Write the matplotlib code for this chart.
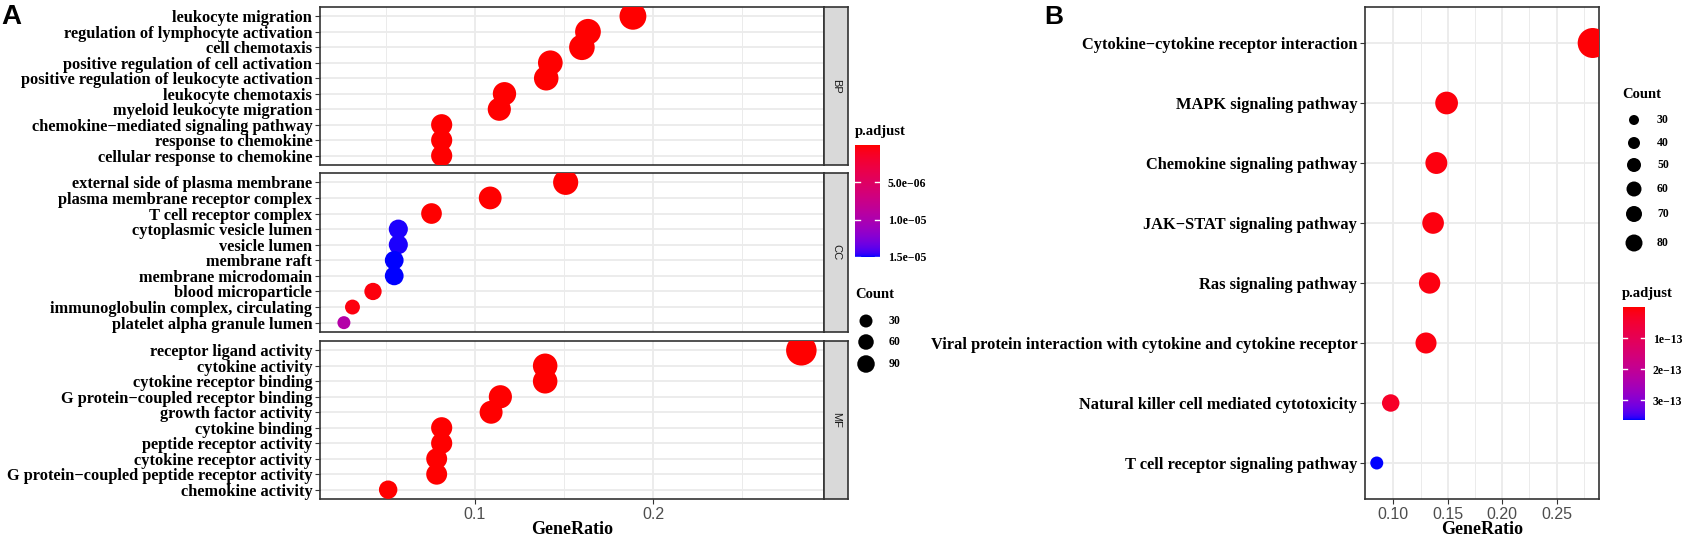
import numpy as np
import matplotlib
matplotlib.use("Agg")
import matplotlib.pyplot as plt
from matplotlib.colors import ListedColormap, Normalize

# ---------------------------------------------------------------
# Panel A : GO enrichment, faceted by ontology
# ---------------------------------------------------------------
bp_terms = [
    "leukocyte migration",
    "regulation of lymphocyte activation",
    "cell chemotaxis",
    "positive regulation of cell activation",
    "positive regulation of leukocyte activation",
    "leukocyte chemotaxis",
    "myeloid leukocyte migration",
    "chemokine\u2212mediated signaling pathway",
    "response to chemokine",
    "cellular response to chemokine",
]
bp_ratio = [0.1886, 0.1634, 0.1600, 0.1423, 0.1400, 0.1166, 0.1137, 0.0814, 0.0814, 0.0814]
bp_count = [61, 53, 52, 46, 45, 38, 37, 27, 27, 27]
bp_padj = [2.1e-20, 3.4e-18, 5.0e-18, 1.2e-16, 2.0e-16, 4.1e-14, 8.8e-14, 1.5e-12, 1.5e-12, 1.9e-12]

cc_terms = [
    "external side of plasma membrane",
    "plasma membrane receptor complex",
    "T cell receptor complex",
    "cytoplasmic vesicle lumen",
    "vesicle lumen",
    "membrane raft",
    "membrane microdomain",
    "blood microparticle",
    "immunoglobulin complex, circulating",
    "platelet alpha granule lumen",
]
cc_ratio = [0.1509, 0.1086, 0.0757, 0.0571, 0.0571, 0.0548, 0.0548, 0.0429, 0.0314, 0.0266]
cc_count = [49, 35, 25, 19, 19, 18, 18, 14, 10, 9]
cc_padj = [1.8e-14, 2.2e-10, 6.5e-9, 1.49e-5, 1.49e-5, 1.50e-5, 1.502e-5, 3.1e-7, 4.0e-7, 9.5e-6]

mf_terms = [
    "receptor ligand activity",
    "cytokine activity",
    "cytokine receptor binding",
    "G protein\u2212coupled receptor binding",
    "growth factor activity",
    "cytokine binding",
    "peptide receptor activity",
    "cytokine receptor activity",
    "G protein\u2212coupled peptide receptor activity",
    "chemokine activity",
]
mf_ratio = [0.2830, 0.1394, 0.1394, 0.1143, 0.1091, 0.0814, 0.0814, 0.0786, 0.0786, 0.0514]
mf_count = [92, 45, 45, 37, 36, 27, 27, 26, 26, 17]
mf_padj = [1.2e-30, 5.1e-20, 8.3e-20, 1.1e-14, 2.6e-13, 4.2e-12, 5.5e-12, 6.1e-12, 7.0e-12, 1.3e-10]

a_count_breaks = [30, 60, 90]
a_padj_breaks = [5e-6, 1e-5, 1.5e-5]
a_padj_labels = ["5.0e\u221206", "1.0e\u221205", "1.5e\u221205"]

# ---------------------------------------------------------------
# Panel B : KEGG enrichment
# ---------------------------------------------------------------
kegg_terms = [
    "Cytokine\u2212cytokine receptor interaction",
    "MAPK signaling pathway",
    "Chemokine signaling pathway",
    "JAK\u2212STAT signaling pathway",
    "Ras signaling pathway",
    "Viral protein interaction with cytokine and cytokine receptor",
    "Natural killer cell mediated cytotoxicity",
    "T cell receptor signaling pathway",
]
kegg_ratio = [0.2830, 0.1489, 0.1395, 0.1365, 0.1333, 0.1300, 0.0976, 0.0848]
kegg_count = [83, 44, 41, 40, 39, 38, 29, 25]
kegg_padj = [4.2e-15, 8.1e-15, 9.0e-15, 9.6e-15, 1.0e-14, 1.1e-14, 3.5e-14, 3.63e-13]

b_count_breaks = [30, 40, 50, 60, 70, 80]
b_padj_breaks = [1e-13, 2e-13, 3e-13]
b_padj_labels = ["1e\u221213", "2e\u221213", "3e\u221213"]

# ---------------------------------------------------------------
W, H, DPI = 1686, 547, 100
SERIF = ["Liberation Serif", "DejaVu Serif"]
SANS = ["Liberation Sans", "DejaVu Sans"]
FRAME = "#333333"
GRID = "#EBEBEB"
LABEL_FS = 11.8

M_RGB2XYZ = np.array([[0.4124, 0.3576, 0.1805],
                      [0.2126, 0.7152, 0.0722],
                      [0.0193, 0.1192, 0.9505]])
WHITE = np.array([0.95047, 1.0, 1.08883])


def srgb_to_lab(rgb):
    c = np.asarray(rgb, dtype=float)
    lin = np.where(c <= 0.04045, c / 12.92, ((c + 0.055) / 1.055) ** 2.4)
    xyz = M_RGB2XYZ @ lin / WHITE
    f = np.where(xyz > 0.008856, np.cbrt(xyz), 7.787 * xyz + 16 / 116)
    return np.array([116 * f[1] - 16, 500 * (f[0] - f[1]), 200 * (f[1] - f[2])])


def lab_to_srgb(lab):
    L, a, b = lab
    fy = (L + 16) / 116
    f = np.array([fy + a / 500, fy, fy - b / 200])
    xyz = np.where(f ** 3 > 0.008856, f ** 3, (f - 16 / 116) / 7.787) * WHITE
    lin = np.clip(np.linalg.solve(M_RGB2XYZ, xyz), 0, 1)
    c = np.where(lin <= 0.0031308, 12.92 * lin, 1.055 * lin ** (1 / 2.4) - 0.055)
    return np.clip(c, 0, 1)


# red -> blue gradient interpolated in Lab, like ggplot's scale_color_continuous
lab_lo = srgb_to_lab([1, 0, 0])
lab_hi = srgb_to_lab([0, 0, 1])
cmap = ListedColormap([lab_to_srgb(lab_lo + (lab_hi - lab_lo) * t) for t in np.linspace(0, 1, 256)])


def dot_sizes(counts, cmin, cmax, dmin_px, dmax_px):
    frac = (np.asarray(counts, dtype=float) - cmin) / (cmax - cmin)
    d_px = dmin_px + (dmax_px - dmin_px) * np.sqrt(np.clip(frac, 0, 1))
    return (d_px * 72.0 / DPI) ** 2


def px_axes(fig, x0, y0, x1, y1):
    return fig.add_axes([x0 / W, 1 - y1 / H, (x1 - x0) / W, (y1 - y0) / H])


def style_panel(ax, terms, xlim, major, minor, show_x):
    n = len(terms)
    ax.set_xlim(*xlim)
    ax.set_ylim(-0.6, n - 0.4)
    ax.set_yticks(range(n))
    ax.set_yticklabels(terms[::-1], fontfamily=SERIF, fontweight="bold", fontsize=LABEL_FS)
    ax.set_xticks(major)
    ax.set_xticks(minor, minor=True)
    ax.grid(which="major", color=GRID, lw=1.3, zorder=0)
    ax.grid(which="minor", axis="x", color=GRID, lw=0.7, zorder=0)
    ax.set_axisbelow(True)
    for s in ax.spines.values():
        s.set_color(FRAME)
        s.set_linewidth(1.2)
    ax.tick_params(axis="y", length=3.5, width=0.8, color=FRAME, pad=2)
    ax.tick_params(axis="x", which="minor", length=0)
    if show_x:
        ax.tick_params(axis="x", length=3.5, width=0.8, color=FRAME, pad=2.5,
                       labelsize=11.5, labelcolor="#4D4D4D")
    else:
        ax.tick_params(axis="x", length=0, labelbottom=False)


def draw_colorbar(fig, box, vmax, breaks, labels):
    cax = px_axes(fig, *box)
    vals = np.linspace(0, vmax, 300)[:, None]
    cax.imshow(vals, aspect="auto", cmap=cmap, norm=Normalize(0, vmax),
               extent=[0, 1, vmax, 0], interpolation="bilinear")
    cax.set_xlim(0, 1)
    cax.set_ylim(vmax, 0)
    for b in breaks:
        cax.plot([0, 0.2], [b, b], color="white", lw=1.0)
        cax.plot([0.8, 1], [b, b], color="white", lw=1.0)
    cax.set_xticks([])
    cax.set_yticks(breaks)
    cax.set_yticklabels(labels, fontfamily=SERIF, fontweight="bold", fontsize=8.5)
    cax.tick_params(axis="y", left=False, right=False, labelleft=False, labelright=True, pad=2)
    for s in cax.spines.values():
        s.set_visible(False)


fig = plt.figure(figsize=(W / DPI, H / DPI), dpi=DPI, facecolor="white")

# ---------------- Panel A ----------------
a_counts_all = bp_count + cc_count + mf_count
a_cmin, a_cmax = min(a_counts_all), max(a_counts_all)
a_vmax = max(bp_padj + cc_padj + mf_padj)
a_norm = Normalize(0, a_vmax)
a_xlim = (0.0132, 0.2957)

facets = [
    ("BP", bp_terms, bp_ratio, bp_count, bp_padj, 7, 165),
    ("CC", cc_terms, cc_ratio, cc_count, cc_padj, 173, 332),
    ("MF", mf_terms, mf_ratio, mf_count, mf_padj, 341, 499),
]
for name, terms, ratio, count, padj, top, bottom in facets:
    ax = px_axes(fig, 320, top, 824, bottom)
    ypos = np.arange(len(terms))[::-1]
    ax.scatter(ratio, ypos, s=dot_sizes(count, a_cmin, a_cmax, 13, 30.5),
               c=padj, cmap=cmap, norm=a_norm, edgecolors="none", zorder=3)
    style_panel(ax, terms, a_xlim, [0.1, 0.2], [0.05, 0.15, 0.25], show_x=(name == "MF"))
    if name == "MF":
        ax.set_xticklabels(["0.1", "0.2"], fontfamily=SANS)

    # facet strip on the right
    sax = px_axes(fig, 824, top, 848, bottom)
    sax.set_facecolor("#D9D9D9")
    sax.set_xticks([])
    sax.set_yticks([])
    for s in sax.spines.values():
        s.set_color(FRAME)
        s.set_linewidth(1.2)
    sax.text(0.5, 0.5, name, rotation=-90, ha="center", va="center",
             fontsize=8, color="#1A1A1A", fontfamily=SANS, transform=sax.transAxes)

fig.text(572 / W, 1 - 530 / H, "GeneRatio", ha="center", va="center",
         fontfamily=SERIF, fontweight="bold", fontsize=13)
fig.text(1 / W, 1 - 17 / H, "A", ha="left", va="center", fontfamily=SANS,
         fontweight="bold", fontsize=20)

# ---------------- Panel B ----------------
b_norm = Normalize(0, max(kegg_padj))
bx = px_axes(fig, 1365, 7, 1599, 499)
ypos = np.arange(len(kegg_terms))[::-1]
bx.scatter(kegg_ratio, ypos, s=dot_sizes(kegg_count, min(kegg_count), max(kegg_count), 13, 30),
           c=kegg_padj, cmap=cmap, norm=b_norm, edgecolors="none", zorder=3)
style_panel(bx, kegg_terms, (0.074, 0.2888), [0.10, 0.15, 0.20, 0.25],
            [0.125, 0.175, 0.225, 0.275], show_x=True)
bx.set_xticklabels(["0.10", "0.15", "0.20", "0.25"], fontfamily=SANS)

fig.text(1482 / W, 1 - 530 / H, "GeneRatio", ha="center", va="center",
         fontfamily=SERIF, fontweight="bold", fontsize=13)
fig.text(1044 / W, 1 - 17 / H, "B", ha="left", va="center", fontfamily=SANS,
         fontweight="bold", fontsize=19)

# ---------------- Legends ----------------
ov = fig.add_axes([0, 0, 1, 1], zorder=5)
ov.set_xlim(0, W)
ov.set_ylim(H, 0)
ov.axis("off")

title_kw = dict(fontfamily=SERIF, fontweight="bold", fontsize=10.5, ha="left", va="center")
label_kw = dict(fontfamily=SERIF, fontweight="bold", fontsize=8.5, ha="left", va="center")

# Panel A legends
ov.text(855, 132, "p.adjust", **title_kw)
draw_colorbar(fig, (855, 145, 880, 257), a_vmax, a_padj_breaks, a_padj_labels)
ov.text(855, 295, "Count", **title_kw)
a_leg_y = [321, 342, 364]
a_leg_d = [13, 15.5, 17.5]
for y, d, c in zip(a_leg_y, a_leg_d, a_count_breaks):
    ov.scatter([866], [y], s=(d * 72.0 / DPI) ** 2, color="black", edgecolors="none")
    ov.text(889, y, str(c), **label_kw)

# Panel B legends
ov.text(1622, 94, "Count", **title_kw)
b_leg_y = [120, 143, 165, 189, 214, 243]
b_leg_d = [10, 12, 14, 15, 16, 17]
for y, d, c in zip(b_leg_y, b_leg_d, b_count_breaks):
    ov.scatter([1634], [y], s=(d * 72.0 / DPI) ** 2, color="black", edgecolors="none")
    ov.text(1657, y, str(c), **label_kw)
ov.text(1622, 293, "p.adjust", **title_kw)
draw_colorbar(fig, (1623, 307, 1645, 420), max(kegg_padj), b_padj_breaks, b_padj_labels)

fig.savefig("out.png", dpi=DPI, facecolor="white")
plt.close(fig)
